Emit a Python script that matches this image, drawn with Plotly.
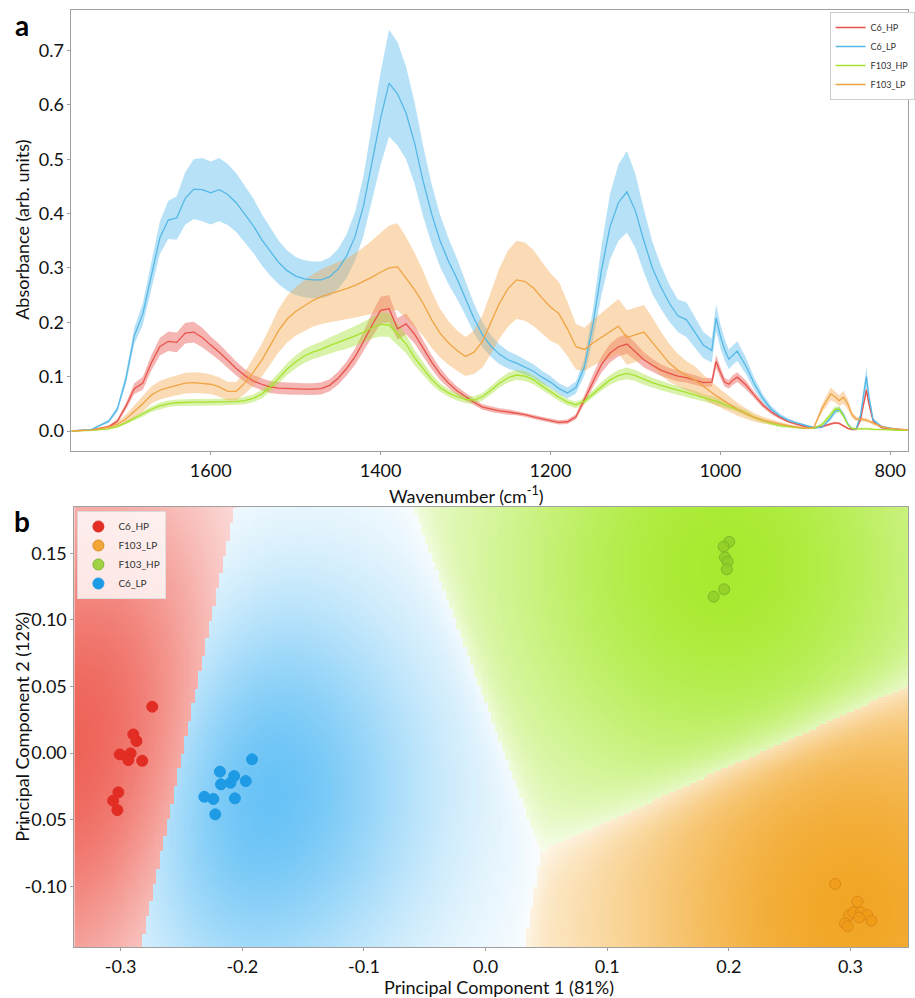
import numpy as np
import plotly.graph_objects as go

# ---------------- Panel a data (FTIR spectra, mean and standard deviation) ----------------
wavenumber = [1764, 1740, 1720, 1710, 1700, 1690, 1680, 1670, 1660, 1650, 1640, 1630, 1620, 1610,
              1600, 1590, 1580, 1570, 1560, 1550, 1540, 1530, 1520, 1510, 1500, 1490, 1480, 1470,
              1460, 1450, 1440, 1430, 1420, 1410, 1400, 1390, 1380, 1370, 1360, 1350, 1340, 1330,
              1320, 1310, 1300, 1290, 1280, 1270, 1260, 1250, 1240, 1230, 1220, 1210, 1200, 1190,
              1180, 1170, 1160, 1150, 1140, 1130, 1120, 1110, 1100, 1090, 1080, 1070, 1060, 1050,
              1040, 1030, 1020, 1010, 1005, 1000, 995, 990, 985, 980, 970, 960, 950, 940, 930, 920,
              910, 900, 890, 880, 870, 865, 860, 855, 850, 845, 840, 835, 828, 825, 820, 810, 800,
              790, 779]

c6_hp_mean = [0.000, 0.002, 0.008, 0.018, 0.045, 0.078, 0.088, 0.125, 0.155, 0.165, 0.163, 0.180, 0.182, 0.172,
              0.158, 0.145, 0.130, 0.115, 0.102, 0.092, 0.086, 0.081, 0.079, 0.078, 0.077, 0.077, 0.077, 0.078,
              0.084, 0.097, 0.115, 0.137, 0.165, 0.195, 0.222, 0.225, 0.188, 0.197, 0.178, 0.152, 0.127, 0.105,
              0.088, 0.074, 0.063, 0.053, 0.044, 0.040, 0.037, 0.035, 0.033, 0.030, 0.026, 0.022, 0.019, 0.016,
              0.017, 0.026, 0.058, 0.092, 0.122, 0.143, 0.155, 0.160, 0.146, 0.131, 0.121, 0.112, 0.106, 0.101,
              0.098, 0.094, 0.089, 0.090, 0.128, 0.108, 0.090, 0.086, 0.094, 0.099, 0.085, 0.066, 0.048, 0.035, 0.025, 0.017,
              0.012, 0.008, 0.006, 0.008, 0.013, 0.015, 0.014, 0.010, 0.005, 0.003, 0.003, 0.020, 0.075, 0.050, 0.018, 0.006, 0.004,
              0.002, 0.001]
c6_hp_sd = [0.000, 0.001, 0.002, 0.004, 0.006, 0.010, 0.012, 0.014, 0.016, 0.018, 0.018, 0.019, 0.019, 0.018,
            0.016, 0.015, 0.014, 0.013, 0.012, 0.011, 0.011, 0.011, 0.011, 0.011, 0.011, 0.011, 0.011, 0.011,
            0.011, 0.012, 0.013, 0.015, 0.018, 0.022, 0.025, 0.025, 0.020, 0.019, 0.017, 0.015, 0.013, 0.011,
            0.009, 0.008, 0.007, 0.006, 0.005, 0.005, 0.005, 0.005, 0.004, 0.004, 0.004, 0.004, 0.004, 0.004,
            0.004, 0.005, 0.008, 0.012, 0.015, 0.017, 0.018, 0.018, 0.016, 0.014, 0.012, 0.011, 0.010, 0.010,
            0.009, 0.009, 0.008, 0.008, 0.012, 0.010, 0.008, 0.008, 0.009, 0.009, 0.008, 0.006, 0.005, 0.004, 0.003, 0.002,
            0.002, 0.002, 0.002, 0.002, 0.002, 0.002, 0.002, 0.002, 0.002, 0.002, 0.002, 0.003, 0.008, 0.006, 0.003, 0.002, 0.002,
            0.001, 0.001]

c6_lp_mean = [0.000, 0.003, 0.018, 0.040, 0.095, 0.175, 0.215, 0.285, 0.355, 0.388, 0.392, 0.428, 0.445, 0.444,
              0.438, 0.444, 0.435, 0.420, 0.400, 0.378, 0.352, 0.330, 0.310, 0.295, 0.285, 0.280, 0.278, 0.278,
              0.284, 0.298, 0.322, 0.358, 0.415, 0.495, 0.575, 0.640, 0.620, 0.585, 0.530, 0.460, 0.400, 0.350,
              0.312, 0.280, 0.245, 0.207, 0.177, 0.156, 0.141, 0.131, 0.125, 0.118, 0.110, 0.099, 0.090, 0.078,
              0.070, 0.080, 0.118, 0.195, 0.295, 0.375, 0.420, 0.440, 0.405, 0.350, 0.300, 0.265, 0.235, 0.212,
              0.205, 0.182, 0.158, 0.148, 0.208, 0.175, 0.150, 0.132, 0.140, 0.147, 0.120, 0.087, 0.060, 0.040, 0.028, 0.020,
              0.015, 0.010, 0.006, 0.007, 0.024, 0.036, 0.040, 0.030, 0.013, 0.004, 0.004, 0.028, 0.100, 0.062, 0.020, 0.008, 0.005,
              0.003, 0.002]
c6_lp_sd = [0.000, 0.001, 0.003, 0.005, 0.010, 0.015, 0.020, 0.025, 0.030, 0.035, 0.040, 0.048, 0.055, 0.058,
            0.058, 0.058, 0.056, 0.054, 0.052, 0.050, 0.047, 0.044, 0.040, 0.037, 0.035, 0.034, 0.034, 0.034,
            0.035, 0.037, 0.040, 0.045, 0.055, 0.070, 0.085, 0.098, 0.095, 0.085, 0.075, 0.065, 0.055, 0.048,
            0.042, 0.037, 0.032, 0.027, 0.023, 0.020, 0.018, 0.016, 0.015, 0.014, 0.013, 0.012, 0.011, 0.010,
            0.010, 0.011, 0.016, 0.028, 0.045, 0.060, 0.070, 0.075, 0.068, 0.058, 0.048, 0.040, 0.034, 0.030,
            0.032, 0.028, 0.024, 0.022, 0.025, 0.022, 0.020, 0.018, 0.018, 0.018, 0.015, 0.011, 0.008, 0.006, 0.004, 0.003,
            0.002, 0.002, 0.002, 0.002, 0.004, 0.005, 0.005, 0.004, 0.003, 0.002, 0.002, 0.005, 0.018, 0.012, 0.004, 0.002, 0.001,
            0.001, 0.001]

f103_hp_mean = [0.000, 0.001, 0.004, 0.008, 0.015, 0.023, 0.031, 0.040, 0.046, 0.050, 0.052, 0.053, 0.053, 0.053,
                0.053, 0.053, 0.053, 0.054, 0.056, 0.060, 0.068, 0.081, 0.097, 0.114, 0.127, 0.138, 0.145, 0.150,
                0.157, 0.163, 0.168, 0.175, 0.182, 0.190, 0.196, 0.195, 0.178, 0.160, 0.135, 0.115, 0.095, 0.080,
                0.070, 0.063, 0.058, 0.057, 0.063, 0.075, 0.088, 0.098, 0.103, 0.101, 0.094, 0.083, 0.072, 0.062,
                0.053, 0.048, 0.055, 0.068, 0.082, 0.094, 0.102, 0.106, 0.102, 0.095, 0.089, 0.084, 0.079, 0.075,
                0.071, 0.066, 0.061, 0.057, 0.055, 0.052, 0.049, 0.046, 0.043, 0.040, 0.033, 0.025, 0.019, 0.014, 0.010, 0.008,
                0.006, 0.005, 0.005, 0.012, 0.030, 0.040, 0.040, 0.028, 0.012, 0.005, 0.004, 0.004, 0.005, 0.004, 0.003, 0.003, 0.002,
                0.001, 0.001]
f103_hp_sd = [0.000, 0.001, 0.001, 0.002, 0.003, 0.004, 0.005, 0.005, 0.006, 0.006, 0.006, 0.006, 0.006, 0.006,
              0.006, 0.006, 0.006, 0.006, 0.007, 0.007, 0.008, 0.009, 0.010, 0.011, 0.012, 0.013, 0.013, 0.014,
              0.015, 0.016, 0.017, 0.018, 0.019, 0.020, 0.022, 0.022, 0.020, 0.017, 0.014, 0.012, 0.010, 0.008,
              0.007, 0.007, 0.007, 0.007, 0.007, 0.008, 0.008, 0.009, 0.009, 0.009, 0.008, 0.008, 0.007, 0.007,
              0.006, 0.006, 0.006, 0.007, 0.008, 0.009, 0.010, 0.011, 0.010, 0.010, 0.009, 0.009, 0.008, 0.008,
              0.008, 0.008, 0.007, 0.007, 0.007, 0.006, 0.006, 0.006, 0.005, 0.005, 0.005, 0.004, 0.004, 0.003, 0.003, 0.002,
              0.002, 0.002, 0.002, 0.003, 0.005, 0.005, 0.005, 0.004, 0.003, 0.002, 0.002, 0.002, 0.002, 0.002, 0.002, 0.001, 0.001,
              0.001, 0.001]

f103_lp_mean = [0.000, 0.002, 0.007, 0.012, 0.022, 0.036, 0.050, 0.066, 0.075, 0.080, 0.084, 0.088, 0.089, 0.088,
                0.086, 0.081, 0.073, 0.073, 0.088, 0.108, 0.130, 0.157, 0.185, 0.206, 0.220, 0.230, 0.240, 0.247,
                0.252, 0.256, 0.262, 0.268, 0.275, 0.283, 0.292, 0.300, 0.302, 0.282, 0.260, 0.235, 0.205, 0.180,
                0.162, 0.148, 0.137, 0.145, 0.165, 0.200, 0.235, 0.262, 0.278, 0.275, 0.263, 0.245, 0.228, 0.216,
                0.188, 0.155, 0.150, 0.162, 0.172, 0.182, 0.193, 0.172, 0.177, 0.182, 0.163, 0.143, 0.125, 0.112,
                0.102, 0.094, 0.082, 0.070, 0.065, 0.060, 0.055, 0.050, 0.045, 0.040, 0.032, 0.025, 0.020, 0.016, 0.013, 0.010,
                0.007, 0.005, 0.006, 0.042, 0.068, 0.063, 0.056, 0.062, 0.050, 0.030, 0.022, 0.022, 0.020, 0.018, 0.014, 0.008, 0.005,
                0.003, 0.002]
f103_lp_sd = [0.000, 0.001, 0.003, 0.005, 0.008, 0.011, 0.014, 0.016, 0.017, 0.018, 0.018, 0.019, 0.019, 0.019,
              0.018, 0.018, 0.017, 0.017, 0.020, 0.025, 0.030, 0.035, 0.040, 0.043, 0.045, 0.047, 0.048, 0.050,
              0.052, 0.054, 0.056, 0.059, 0.063, 0.068, 0.073, 0.078, 0.080, 0.075, 0.068, 0.060, 0.052, 0.045,
              0.040, 0.037, 0.036, 0.040, 0.048, 0.058, 0.065, 0.070, 0.072, 0.072, 0.070, 0.066, 0.062, 0.058,
              0.050, 0.042, 0.040, 0.042, 0.045, 0.048, 0.050, 0.050, 0.050, 0.050, 0.046, 0.040, 0.035, 0.030,
              0.027, 0.025, 0.022, 0.020, 0.018, 0.017, 0.016, 0.015, 0.013, 0.012, 0.010, 0.008, 0.006, 0.005, 0.004, 0.003,
              0.002, 0.002, 0.002, 0.008, 0.012, 0.010, 0.010, 0.012, 0.010, 0.006, 0.004, 0.004, 0.004, 0.003, 0.003, 0.002, 0.001,
              0.001, 0.001]

spectra_names = ["C6_HP", "C6_LP", "F103_HP", "F103_LP"]

# ---------------- Panel b data (PCA scores) ----------------
pc1_c6_hp = [-0.274, -0.2896, -0.287, -0.3007, -0.2918, -0.2937, -0.2823, -0.3019, -0.3062, -0.3027]
pc2_c6_hp = [0.0348, 0.014, 0.009, -0.001, -0.0002, -0.0053, -0.0058, -0.0295, -0.0358, -0.0428]

pc1_f103_lp = [0.2874, 0.3058, 0.2990, 0.3023, 0.3086, 0.3137, 0.3070, 0.3172, 0.2955, 0.2976]
pc2_f103_lp = [-0.0983, -0.1116, -0.1216, -0.1196, -0.1196, -0.1216, -0.1234, -0.1259, -0.1279, -0.1299]

pc1_f103_hp = [0.2003, 0.1957, 0.1968, 0.1989, 0.1984, 0.1962, 0.1875]
pc2_f103_hp = [0.1586, 0.1549, 0.1469, 0.1436, 0.1379, 0.1229, 0.1174]

pc1_c6_lp = [-0.192, -0.2184, -0.2067, -0.2175, -0.2097, -0.1971, -0.2312, -0.2238, -0.2061, -0.2222]
pc2_c6_lp = [-0.0047, -0.0140, -0.0173, -0.0235, -0.0223, -0.0210, -0.0328, -0.0345, -0.0340, -0.0460]

pca_names = ["C6_HP", "F103_LP", "F103_HP", "C6_LP"]

# ---------------- Figure ----------------
W, H = 915, 998
FONT = "Lato"


def px_x(p):
    return p / W


def px_y(p):
    return 1 - p / H


fig = go.Figure()

line_colors = {"C6_HP": "#e8524a", "C6_LP": "#55b8e6", "F103_HP": "#a6e22e", "F103_LP": "#f0a443"}
fill_colors = {"C6_HP": "rgba(232,82,74,0.42)", "C6_LP": "rgba(110,195,240,0.5)",
               "F103_HP": "rgba(165,225,50,0.42)", "F103_LP": "rgba(242,170,80,0.42)"}
spectra = {"C6_HP": (c6_hp_mean, c6_hp_sd), "C6_LP": (c6_lp_mean, c6_lp_sd),
           "F103_HP": (f103_hp_mean, f103_hp_sd), "F103_LP": (f103_lp_mean, f103_lp_sd)}

for name in spectra_names:
    m, s = spectra[name]
    m = np.array(m)
    s = np.array(s)
    up = m + s
    lo = m - s
    fig.add_trace(go.Scatter(
        x=wavenumber + wavenumber[::-1], y=list(up) + list(lo[::-1]),
        fill="toself", fillcolor=fill_colors[name], line=dict(width=0),
        mode="lines", showlegend=False, hoverinfo="skip", xaxis="x", yaxis="y"))
for name in spectra_names:
    m, s = spectra[name]
    fig.add_trace(go.Scatter(
        x=wavenumber, y=m, mode="lines", name=name,
        line=dict(color=line_colors[name], width=1.3),
        xaxis="x", yaxis="y", legend="legend"))

# ---- Panel b background: class-probability map from the score clusters ----
x2_range = [-0.338, 0.3473]
y2_range = [-0.1456, 0.1847]
pca = {"C6_HP": (pc1_c6_hp, pc2_c6_hp), "F103_LP": (pc1_f103_lp, pc2_f103_lp),
       "F103_HP": (pc1_f103_hp, pc2_f103_hp), "C6_LP": (pc1_c6_lp, pc2_c6_lp)}
bg_colors = {"C6_HP": (236, 78, 66), "F103_LP": (242, 166, 38),
             "F103_HP": (168, 234, 48), "C6_LP": (78, 184, 244)}
spread = {"C6_HP": 0.16, "F103_LP": 0.16, "F103_HP": 0.16, "C6_LP": 0.115}

cent = np.array([[np.mean(pca[n][0]), np.mean(pca[n][1])] for n in pca_names])
gx = np.linspace(x2_range[0], x2_range[1], 240)
gy = np.linspace(y2_range[0], y2_range[1], 150)
GX, GY = np.meshgrid(gx, gy)
d2 = np.stack([(GX - cx) ** 2 + (GY - cy) ** 2 for cx, cy in cent])
cls = d2.argmin(axis=0)
sig = 0.055
logit = -d2 / (2 * sig ** 2)
logit -= logit.max(axis=0)
prob = np.exp(logit)
prob /= prob.sum(axis=0)
pmax = prob.max(axis=0)
S = np.array([spread[n] for n in pca_names])[cls]
dens = np.exp(-d2.min(axis=0) / (2 * S ** 2))
alpha = np.clip(pmax * dens, 0, 0.998)
zmap = cls + alpha

cscale = []
for i, n in enumerate(pca_names):
    c = bg_colors[n]
    cscale.append([i / 4, "rgb(255,255,255)"])
    cscale.append([(i + 0.999) / 4, "rgb(%d,%d,%d)" % c])
cscale[-1][0] = 1.0

fig.add_trace(go.Heatmap(x=gx, y=gy, z=zmap, zmin=0, zmax=4, colorscale=cscale,
                         showscale=False, hoverinfo="skip", zsmooth=False,
                         xaxis="x2", yaxis="y2"))

marker_fill = {"C6_HP": "rgba(225,45,35,1)", "F103_LP": "rgba(240,155,25,0.85)",
               "F103_HP": "rgba(145,205,40,0.85)", "C6_LP": "rgba(30,155,228,1)"}
marker_line = {"C6_HP": "rgba(225,45,35,1)", "F103_LP": "rgba(215,135,25,0.9)",
               "F103_HP": "rgba(120,180,40,0.9)", "C6_LP": "rgba(30,155,228,1)"}
for n in pca_names:
    fig.add_trace(go.Scatter(
        x=pca[n][0], y=pca[n][1], mode="markers", name=n,
        marker=dict(size=11, color=marker_fill[n], line=dict(color=marker_line[n], width=1)),
        xaxis="x2", yaxis="y2", legend="legend2"))

axis_common = dict(showline=True, linecolor="#a0a0a0", linewidth=1, mirror=True,
                   showgrid=False, zeroline=False, ticks="outside", ticklen=3,
                   tickcolor="#a0a0a0", tickfont=dict(family=FONT, size=18, color="#111"))

fig.update_layout(
    width=W, height=H, margin=dict(l=0, r=0, t=0, b=0),
    paper_bgcolor="white", plot_bgcolor="white",
    font=dict(family=FONT, color="#111"),
    xaxis=dict(domain=[px_x(72), 1.0], range=[1764, 779], anchor="y",
               tickvals=[1600, 1400, 1200, 1000, 800],
               ticktext=["1600", "1400", "1200", "1000", "800"], **axis_common),
    yaxis=dict(domain=[px_y(451), px_y(10)], range=[-0.0368, 0.7745], anchor="x",
               tickvals=[0, 0.1, 0.2, 0.3, 0.4, 0.5, 0.6, 0.7],
               ticktext=["0.0", "0.1", "0.2", "0.3", "0.4", "0.5", "0.6", "0.7"], **axis_common),
    xaxis2=dict(domain=[px_x(75), 1.0], range=x2_range, anchor="y2",
                tickvals=[-0.3, -0.2, -0.1, 0.0, 0.1, 0.2, 0.3],
                ticktext=["-0.3", "-0.2", "-0.1", "0.0", "0.1", "0.2", "0.3"], **axis_common),
    yaxis2=dict(domain=[px_y(947), px_y(507)], range=y2_range, anchor="x2",
                tickvals=[-0.10, -0.05, 0.0, 0.05, 0.10, 0.15],
                ticktext=["-0.10", "-0.05", "0.00", "0.05", "0.10", "0.15"], **axis_common),
    legend=dict(x=px_x(836), y=px_y(12), xanchor="left", yanchor="top",
                bgcolor="white", bordercolor="#cccccc", borderwidth=1,
                font=dict(family=FONT, size=9, color="#333"), itemwidth=30,
                tracegroupgap=0),
    legend2=dict(x=px_x(78), y=px_y(511), xanchor="left", yanchor="top",
                 bgcolor="rgba(255,255,255,0.8)", bordercolor="rgba(220,220,220,0.9)", borderwidth=1,
                 font=dict(family=FONT, size=10, color="#333"), itemwidth=30),
    annotations=[
        dict(text="<b>a</b>", x=px_x(22), y=px_y(25), xref="paper", yref="paper",
             showarrow=False, font=dict(family=FONT, size=28, color="#000"),
             xanchor="center", yanchor="middle"),
        dict(text="<b>b</b>", x=px_x(22), y=px_y(521), xref="paper", yref="paper",
             showarrow=False, font=dict(family=FONT, size=28, color="#000"),
             xanchor="center", yanchor="middle"),
        dict(text="Absorbance (arb. units)", x=px_x(22), y=px_y(230), xref="paper", yref="paper",
             showarrow=False, textangle=-90, font=dict(family=FONT, size=18, color="#111"),
             xanchor="center", yanchor="middle"),
        dict(text="Wavenumber (cm<sup>-1</sup>)", x=px_x(470), y=px_y(495), xref="paper", yref="paper",
             showarrow=False, font=dict(family=FONT, size=18, color="#111"),
             xanchor="center", yanchor="middle"),
        dict(text="Principal Component 2 (12%)", x=px_x(22), y=px_y(727), xref="paper", yref="paper",
             showarrow=False, textangle=-90, font=dict(family=FONT, size=18, color="#111"),
             xanchor="center", yanchor="middle"),
        dict(text="Principal Component 1 (81%)", x=px_x(503), y=px_y(987), xref="paper", yref="paper",
             showarrow=False, font=dict(family=FONT, size=18, color="#111"),
             xanchor="center", yanchor="middle"),
    ],
)

fig.write_html("out.html")
